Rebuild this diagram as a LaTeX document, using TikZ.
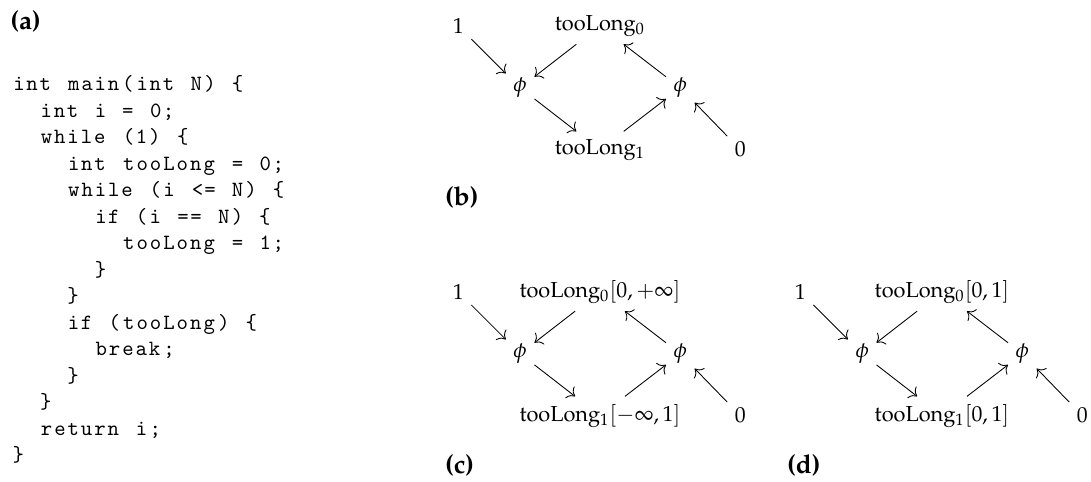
\documentclass[tikz,border=0pt]{standalone}
\usepackage[T1]{fontenc}
\usepackage{mathpazo}
\usepackage{listings}
\usetikzlibrary{arrows.meta}
\renewcommand{\ttdefault}{cmtt}
\lstset{basicstyle=\fontencoding{OT1}\ttfamily\fontsize{10}{12.2}\selectfont,
  columns=fixed, basewidth=0.6em,
  aboveskip=0pt, belowskip=0pt, xleftmargin=0pt}

% phi web used by panels (b), (c) and (d); #1 top label, #2 bottom label
\newcommand{\phiweb}[2]{%
  \node (one)  at (-1,1)    {$1$};
  \node (top)  at (1.29,1)  {#1};
  \node (phil) at (0,0)     {$\phi$};
  \node (phir) at (2.59,0)  {$\phi$};
  \node (bot)  at (1.29,-1) {#2};
  \node (zero) at (3.56,-1) {$0$};
  \draw[->] (one) -- (phil);
  \draw[->] (top) -- (phil);
  \draw[->] (phil) -- (bot);
  \draw[->] (bot) -- (phir);
  \draw[->] (phir) -- (top);
  \draw[->] (zero) -- (phir);
}

\begin{document}
\begin{tikzpicture}[>={To[scale=1.3]}]
			\useasboundingbox (0,0) rectangle (17.64,-7.79);
			% (a) the source program
			\node[anchor=west, inner sep=0pt] (lbla) at (0.16,-0.34) {\large\textbf{(a)}};
			\node[anchor=north west, inner sep=0pt, text width=7cm] (code) at (0.18,-1.03) {%
\begin{lstlisting}
int main(int N) {
  int i = 0;
  while (1) {
    int tooLong = 0;
    while (i <= N) {
      if (i == N) {
        tooLong = 1;
      }
    }
    if (tooLong) {
      break;
    }
  }
  return i;
}
\end{lstlisting}
			};
			% (b) plain SSA web
			\begin{scope}[shift={(8.41,-1.42)}, name prefix=b-]
				\phiweb{tooLong$_0$}{tooLong$_1$}
			\end{scope}
			\node[anchor=west, inner sep=0pt] (lblb) at (7.19,-3.20) {\large\textbf{(b)}};
			% (c) first ranges
			\begin{scope}[shift={(8.41,-5.72)}, name prefix=c-]
				\phiweb{tooLong$_0[0,+\infty]$}{tooLong$_1[-\infty,1]$}
			\end{scope}
			\node[anchor=west, inner sep=0pt] (lblc) at (7.19,-7.53) {\large\textbf{(c)}};
			% (d) fixed point
			\begin{scope}[shift={(13.94,-5.72)}, name prefix=d-]
				\phiweb{tooLong$_0[0,1]$}{tooLong$_1[0,1]$}
			\end{scope}
			\node[anchor=west, inner sep=0pt] (lbld) at (12.72,-7.53) {\large\textbf{(d)}};
		\end{tikzpicture}
\end{document}
